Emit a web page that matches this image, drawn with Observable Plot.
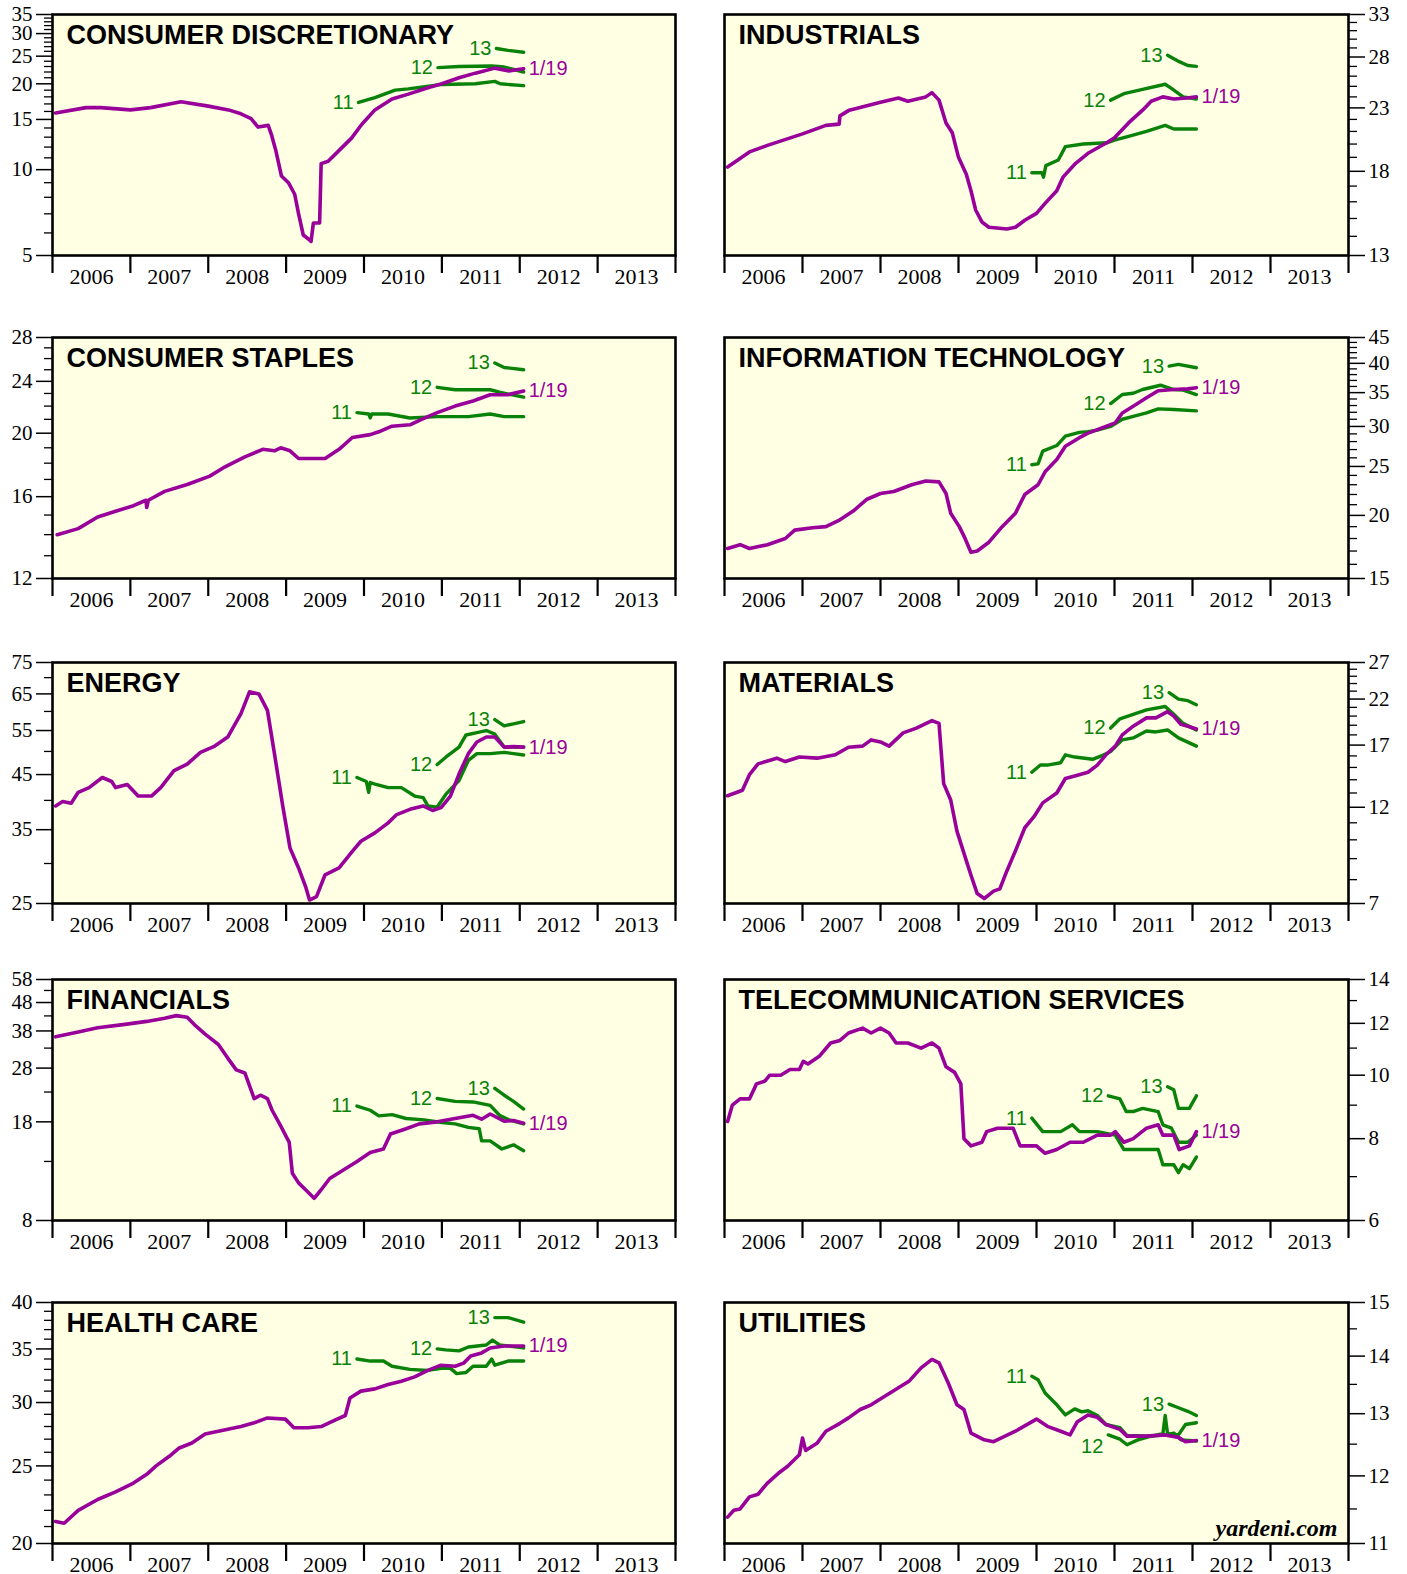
<!DOCTYPE html>
<html><head><meta charset="utf-8">
<script src="https://cdn.jsdelivr.net/npm/d3@7"></script>
<script src="https://cdn.jsdelivr.net/npm/@observablehq/plot@0.6"></script>
<style>
body{margin:0;background:#fff;}
#wrap{position:relative;width:1407px;height:1574px;overflow:hidden;background:#fff;}
#wrap svg{position:absolute;}
#wrap g[aria-label="y-axis tick label"], #wrap g[aria-label="y-axis tick label"] text{font-family:"Liberation Serif", serif !important;font-size:21px !important;}
#wrap g[aria-label="x-axis tick label"], #wrap g[aria-label="x-axis tick label"] text{font-family:"Liberation Serif", serif !important;font-size:22px !important;}
</style></head><body><div id="wrap"></div>
<script>
// ---------- DATA (decimal year, value) ----------
const cdPurple = [[2006.04,15.8],[2006.43,16.5],[2006.62,16.5],[2007.0,16.2],[2007.26,16.5],[2007.65,17.3],[2008.0,16.7],[2008.26,16.2],[2008.42,15.7],[2008.55,15.1],[2008.64,14.1],[2008.77,14.3],[2008.81,13.3],[2008.87,11.6],[2008.94,9.5],[2009.03,9.0],[2009.11,8.2],[2009.16,7.0],[2009.22,5.9],[2009.29,5.7],[2009.32,5.6],[2009.35,6.5],[2009.43,6.5],[2009.45,10.5],[2009.54,10.7],[2009.71,11.9],[2009.84,12.9],[2009.97,14.4],[2010.14,16.2],[2010.36,17.7],[2010.57,18.4],[2010.83,19.4],[2011.0,20.0],[2011.22,21.0],[2011.43,21.8],[2011.68,22.7],[2011.86,22.2],[2012.05,22.6]];
const cdG11 = [[2009.93,17.2],[2010.14,17.9],[2010.4,19.0],[2010.57,19.2],[2010.83,19.6],[2011.0,19.9],[2011.43,20.0],[2011.68,20.4],[2011.75,20.0],[2012.05,19.7]];
const cdG12 = [[2010.95,22.8],[2011.22,23.0],[2011.64,23.1],[2011.8,22.9],[2012.05,22.0]];
const cdG13 = [[2011.7,26.6],[2011.85,26.2],[2012.05,25.8]];

const indPurple = [[2006.04,18.3],[2006.32,19.4],[2006.55,19.9],[2007.0,20.8],[2007.3,21.5],[2007.47,21.6],[2007.48,22.3],[2007.6,22.8],[2008.0,23.5],[2008.23,23.9],[2008.35,23.6],[2008.58,24.0],[2008.66,24.4],[2008.75,23.7],[2008.84,21.7],[2008.92,20.9],[2009.0,19.0],[2009.1,17.8],[2009.16,16.7],[2009.22,15.5],[2009.3,14.8],[2009.39,14.5],[2009.62,14.4],[2009.73,14.5],[2009.85,14.9],[2010.0,15.3],[2010.11,15.9],[2010.26,16.7],[2010.34,17.6],[2010.49,18.5],[2010.66,19.3],[2010.9,20.1],[2011.0,20.5],[2011.18,21.7],[2011.36,22.8],[2011.47,23.6],[2011.62,24.0],[2011.76,23.8],[2011.93,23.9],[2012.05,24.0]];
const indG11 = [[2009.94,17.9],[2010.07,17.9],[2010.09,17.6],[2010.12,18.4],[2010.28,18.8],[2010.37,19.8],[2010.6,20.0],[2010.9,20.1],[2011.0,20.3],[2011.18,20.6],[2011.41,21.0],[2011.65,21.5],[2011.76,21.2],[2012.05,21.2]];
const indG12 = [[2010.95,23.7],[2011.12,24.3],[2011.36,24.7],[2011.65,25.2],[2011.73,24.8],[2011.88,24.0],[2012.05,23.8]];
const indG13 = [[2011.68,28.2],[2011.83,27.5],[2011.94,27.1],[2012.05,27.0]];

const csPurple = [[2006.06,14.0],[2006.33,14.3],[2006.58,14.9],[2006.81,15.2],[2007.04,15.5],[2007.2,15.8],[2007.21,15.4],[2007.23,15.8],[2007.44,16.3],[2007.73,16.7],[2008.02,17.2],[2008.19,17.7],[2008.47,18.4],[2008.7,18.9],[2008.85,18.8],[2008.93,19.0],[2009.05,18.8],[2009.16,18.3],[2009.33,18.3],[2009.5,18.3],[2009.68,18.9],[2009.85,19.7],[2010.08,19.9],[2010.19,20.1],[2010.36,20.5],[2010.59,20.6],[2010.74,21.0],[2010.94,21.5],[2011.17,22.0],[2011.4,22.4],[2011.62,22.9],[2011.74,22.9],[2011.85,22.9],[2012.05,23.2]];
const csG11 = [[2009.91,21.5],[2010.06,21.4],[2010.08,21.1],[2010.1,21.4],[2010.31,21.4],[2010.59,21.1],[2010.94,21.2],[2011.34,21.2],[2011.62,21.4],[2011.8,21.2],[2012.05,21.2]];
const csG12 = [[2010.94,23.5],[2011.17,23.3],[2011.62,23.3],[2011.74,23.1],[2012.05,22.7]];
const csG13 = [[2011.68,25.6],[2011.8,25.2],[2012.05,25.0]];

const itPurple = [[2006.04,17.2],[2006.2,17.5],[2006.32,17.2],[2006.55,17.5],[2006.78,18.0],[2006.9,18.7],[2007.13,18.9],[2007.3,19.0],[2007.48,19.6],[2007.65,20.4],[2007.82,21.5],[2008.0,22.1],[2008.17,22.3],[2008.4,23.0],[2008.58,23.4],[2008.75,23.3],[2008.84,22.1],[2008.9,20.2],[2009.01,19.0],[2009.07,18.2],[2009.16,16.9],[2009.24,17.0],[2009.39,17.7],[2009.56,19.0],[2009.73,20.2],[2009.85,22.0],[2010.02,23.0],[2010.11,24.4],[2010.26,25.8],[2010.37,27.4],[2010.55,28.5],[2010.66,29.1],[2010.89,30.0],[2011.01,30.5],[2011.1,31.9],[2011.24,32.9],[2011.41,34.2],[2011.56,35.3],[2011.76,35.5],[2011.94,35.6],[2012.05,35.8]];
const itG11 = [[2009.94,25.2],[2010.02,25.3],[2010.08,26.8],[2010.26,27.5],[2010.37,28.7],[2010.55,29.2],[2010.66,29.3],[2010.78,29.5],[2010.95,30.0],[2011.1,31.0],[2011.24,31.4],[2011.41,31.9],[2011.56,32.5],[2011.76,32.4],[2012.05,32.2]];
const itG12 = [[2010.95,33.3],[2011.1,34.7],[2011.24,34.9],[2011.36,35.5],[2011.59,36.2],[2011.76,35.5],[2011.88,35.4],[2012.05,34.7]];
const itG13 = [[2011.7,39.5],[2011.82,39.8],[2012.05,39.2]];

const enPurple = [[2006.04,39.0],[2006.13,39.8],[2006.24,39.5],[2006.33,41.5],[2006.47,42.4],[2006.64,44.4],[2006.76,43.6],[2006.81,42.4],[2006.96,43.0],[2007.1,40.8],[2007.27,40.8],[2007.39,42.4],[2007.56,45.8],[2007.73,47.2],[2007.9,49.8],[2008.07,51.1],[2008.25,53.4],[2008.42,59.4],[2008.53,65.6],[2008.65,65.0],[2008.76,60.3],[2008.85,49.5],[2008.96,38.7],[2009.05,32.2],[2009.16,29.4],[2009.25,27.0],[2009.3,25.4],[2009.39,25.8],[2009.5,28.5],[2009.68,29.4],[2009.85,31.7],[2009.96,33.2],[2010.14,34.5],[2010.31,36.1],[2010.42,37.5],[2010.59,38.4],[2010.76,39.0],[2010.88,38.2],[2010.99,38.7],[2011.11,40.8],[2011.22,45.1],[2011.34,49.5],[2011.45,52.2],[2011.57,53.4],[2011.68,53.4],[2011.8,51.0],[2011.92,51.1],[2012.05,51.0]];
const enG11 = [[2009.91,44.4],[2010.03,43.6],[2010.06,41.5],[2010.08,43.4],[2010.14,43.1],[2010.31,42.4],[2010.48,42.4],[2010.65,40.8],[2010.76,40.5],[2010.82,39.0],[2010.94,38.8],[2011.05,41.1],[2011.22,43.8],[2011.34,48.0],[2011.45,49.5],[2011.62,49.5],[2011.8,49.8],[2011.92,49.5],[2012.05,49.2]];
const enG12 = [[2010.94,47.1],[2011.05,48.7],[2011.22,51.0],[2011.31,53.9],[2011.45,54.5],[2011.57,55.0],[2011.68,54.1],[2011.8,51.0],[2012.05,51.0]];
const enG13 = [[2011.68,57.8],[2011.8,56.2],[2011.92,56.7],[2012.05,57.3]];

const maPurple = [[2006.04,12.8],[2006.23,13.2],[2006.32,14.4],[2006.43,15.3],[2006.67,15.8],[2006.78,15.5],[2006.96,15.9],[2007.19,15.8],[2007.42,16.1],[2007.59,16.8],[2007.77,16.9],[2007.88,17.5],[2008.0,17.3],[2008.11,16.9],[2008.29,18.2],[2008.46,18.7],[2008.66,19.5],[2008.75,19.2],[2008.81,13.7],[2008.9,12.5],[2008.98,10.5],[2009.1,8.9],[2009.16,8.2],[2009.24,7.4],[2009.33,7.2],[2009.45,7.5],[2009.53,7.6],[2009.62,8.4],[2009.73,9.4],[2009.85,10.7],[2009.97,11.4],[2010.08,12.3],[2010.26,13.0],[2010.37,14.1],[2010.49,14.3],[2010.66,14.6],[2010.78,15.2],[2010.89,16.1],[2011.01,16.9],[2011.1,18.0],[2011.24,18.9],[2011.41,19.8],[2011.53,19.8],[2011.68,20.5],[2011.76,20.0],[2011.85,19.1],[2011.94,18.9],[2012.05,18.6]];
const maG11 = [[2009.94,14.6],[2010.05,15.2],[2010.14,15.2],[2010.31,15.4],[2010.37,16.1],[2010.49,15.9],[2010.72,15.7],[2010.83,16.0],[2010.95,16.4],[2011.1,17.5],[2011.24,17.7],[2011.41,18.4],[2011.53,18.3],[2011.68,18.5],[2011.82,17.7],[2012.05,16.9]];
const maG12 = [[2010.95,18.7],[2011.07,19.7],[2011.24,20.2],[2011.41,20.7],[2011.65,21.1],[2011.76,20.2],[2011.88,19.2],[2012.05,18.5]];
const maG13 = [[2011.7,22.8],[2011.82,22.0],[2011.94,21.8],[2012.05,21.3]];

const fiPurple = [[2006.04,36.2],[2006.3,37.5],[2006.58,39.0],[2006.93,40.1],[2007.21,41.1],[2007.44,42.2],[2007.59,43.1],[2007.73,42.5],[2007.84,39.6],[2007.96,37.0],[2008.13,34.0],[2008.25,30.4],[2008.36,27.6],[2008.47,26.9],[2008.59,21.8],[2008.67,22.4],[2008.76,21.8],[2008.82,19.8],[2008.93,17.4],[2009.04,15.2],[2009.08,11.8],[2009.16,10.9],[2009.25,10.3],[2009.36,9.6],[2009.45,10.3],[2009.56,11.3],[2009.73,12.1],[2009.91,13.0],[2010.08,14.0],[2010.25,14.4],[2010.34,16.3],[2010.54,17.0],[2010.71,17.7],[2010.94,18.0],[2011.17,18.5],[2011.4,19.0],[2011.51,18.4],[2011.62,19.2],[2011.8,18.1],[2011.92,18.2],[2012.05,17.8]];
const fiG11 = [[2009.91,20.5],[2010.08,19.8],[2010.19,18.9],[2010.36,19.1],[2010.54,18.5],[2010.77,18.3],[2011.0,17.9],[2011.17,17.7],[2011.34,17.2],[2011.48,17.0],[2011.51,15.4],[2011.62,15.4],[2011.77,14.4],[2011.92,14.9],[2012.05,14.2]];
const fiG12 = [[2010.94,21.8],[2011.17,21.3],[2011.4,21.2],[2011.62,20.6],[2011.74,19.0],[2011.86,18.3],[2012.05,17.7]];
const fiG13 = [[2011.68,23.7],[2011.8,22.4],[2011.92,21.3],[2012.05,20.0]];

const tePurple = [[2006.04,8.5],[2006.1,9.0],[2006.2,9.2],[2006.32,9.2],[2006.41,9.7],[2006.52,9.8],[2006.58,10.0],[2006.72,10.0],[2006.84,10.2],[2006.96,10.2],[2007.01,10.5],[2007.07,10.4],[2007.22,10.7],[2007.36,11.2],[2007.48,11.3],[2007.59,11.6],[2007.77,11.8],[2007.88,11.6],[2008.0,11.8],[2008.11,11.6],[2008.2,11.2],[2008.35,11.2],[2008.52,11.0],[2008.66,11.2],[2008.75,11.0],[2008.84,10.3],[2008.95,10.1],[2009.03,9.7],[2009.07,8.0],[2009.16,7.8],[2009.3,7.9],[2009.36,8.2],[2009.5,8.3],[2009.7,8.3],[2009.79,7.8],[2010.0,7.8],[2010.11,7.6],[2010.26,7.7],[2010.43,7.9],[2010.6,7.9],[2010.78,8.1],[2010.95,8.1],[2011.01,8.2],[2011.12,7.9],[2011.24,8.0],[2011.41,8.3],[2011.56,8.4],[2011.62,8.1],[2011.76,8.1],[2011.83,7.7],[2011.96,7.8],[2012.05,8.2]];
const teG11 = [[2009.94,8.6],[2010.08,8.2],[2010.31,8.2],[2010.46,8.4],[2010.55,8.2],[2010.78,8.2],[2011.01,8.1],[2011.12,7.7],[2011.24,7.7],[2011.56,7.7],[2011.62,7.3],[2011.76,7.3],[2011.82,7.1],[2011.88,7.3],[2011.96,7.2],[2012.05,7.5]];
const teG12 = [[2010.92,9.3],[2011.07,9.2],[2011.15,8.8],[2011.24,8.8],[2011.36,8.9],[2011.56,8.8],[2011.62,8.4],[2011.73,8.3],[2011.82,7.9],[2011.94,7.9],[2012.05,8.1]];
const teG13 = [[2011.68,9.6],[2011.76,9.5],[2011.82,8.9],[2011.96,8.9],[2012.05,9.3]];

const hcPurple = [[2006.04,21.3],[2006.15,21.2],[2006.33,22.0],[2006.58,22.7],[2006.81,23.2],[2007.04,23.8],[2007.21,24.4],[2007.33,25.0],[2007.5,25.7],[2007.62,26.3],[2007.79,26.7],[2007.96,27.4],[2008.19,27.7],[2008.42,28.0],[2008.59,28.3],[2008.76,28.7],[2008.99,28.6],[2009.1,27.9],[2009.28,27.9],[2009.45,28.0],[2009.62,28.5],[2009.76,28.9],[2009.82,30.4],[2009.96,31.0],[2010.14,31.2],[2010.31,31.6],[2010.48,31.9],[2010.65,32.3],[2010.82,32.9],[2010.99,33.4],[2011.17,33.3],[2011.28,33.6],[2011.37,34.3],[2011.51,34.6],[2011.62,35.1],[2011.8,35.3],[2012.05,35.3]];
const hcG11 = [[2009.91,34.0],[2010.08,33.8],[2010.25,33.8],[2010.36,33.3],[2010.59,33.0],[2010.82,32.9],[2010.99,33.1],[2011.11,33.1],[2011.19,32.6],[2011.31,32.7],[2011.4,33.3],[2011.57,33.3],[2011.64,34.0],[2011.68,33.4],[2011.85,33.8],[2012.05,33.8]];
const hcG12 = [[2010.94,35.0],[2011.05,34.9],[2011.22,34.8],[2011.34,35.2],[2011.57,35.4],[2011.65,35.9],[2011.74,35.4],[2012.05,35.1]];
const hcG13 = [[2011.68,38.3],[2011.85,38.3],[2012.05,37.8]];

const utPurple = [[2006.04,11.38],[2006.12,11.48],[2006.2,11.5],[2006.32,11.68],[2006.43,11.72],[2006.55,11.89],[2006.69,12.04],[2006.81,12.15],[2006.96,12.33],[2007.0,12.6],[2007.04,12.4],[2007.19,12.52],[2007.3,12.71],[2007.48,12.84],[2007.59,12.93],[2007.74,13.07],[2007.88,13.15],[2008.06,13.3],[2008.23,13.44],[2008.37,13.56],[2008.52,13.79],[2008.66,13.94],[2008.75,13.88],[2008.87,13.52],[2008.98,13.15],[2009.07,13.07],[2009.16,12.68],[2009.33,12.57],[2009.45,12.54],[2009.73,12.71],[2010.0,12.91],[2010.14,12.79],[2010.31,12.71],[2010.43,12.65],[2010.52,12.86],[2010.66,12.98],[2010.78,12.94],[2010.89,12.82],[2011.07,12.74],[2011.16,12.63],[2011.41,12.63],[2011.65,12.65],[2011.82,12.61],[2011.91,12.54],[2012.05,12.56]];
const utG11 = [[2009.94,13.64],[2010.02,13.58],[2010.11,13.35],[2010.26,13.15],[2010.37,12.98],[2010.49,13.08],[2010.58,13.03],[2010.66,13.05],[2010.78,12.97],[2010.89,12.82],[2011.07,12.77],[2011.16,12.64],[2011.47,12.63],[2011.62,12.67],[2011.65,12.97],[2011.68,12.67],[2011.82,12.65],[2011.91,12.82],[2012.05,12.85]];
const utG12 = [[2010.92,12.65],[2011.07,12.58],[2011.16,12.49],[2011.3,12.57],[2011.47,12.63],[2011.65,12.65],[2011.76,12.68],[2011.85,12.57],[2012.05,12.55]];
const utG13 = [[2011.7,13.16],[2011.82,13.1],[2011.94,13.04],[2012.05,12.97]];

// tick labels
const yearTicks = [2006,2007,2008,2009,2010,2011,2012,2013,2014];
const yearLabels = ["2006","2007","2008","2009","2010","2011","2012","2013"];
const seriesLabels = ["11","12","13"];
const lastLabel = "1/19";

// ---------- PANELS ----------
function ints(a,b){const r=[];for(let v=a;v<=b;v++)r.push(v);return r;}
function minorOf(all, major){return all.filter(v=>!major.includes(v));}

const panels = [
 {title:"CONSUMER DISCRETIONARY", col:0,row:0, domain:[5,35], major:[5,10,15,20,25,30,35], minor:minorOf(ints(5,35),[5,10,15,20,25,30,35]), p:cdPurple, g:[cdG11,cdG12,cdG13]},
 {title:"INDUSTRIALS", col:1,row:0, domain:[13,33], major:[13,18,23,28,33], minor:minorOf(ints(13,33),[13,18,23,28,33]), p:indPurple, g:[indG11,indG12,indG13]},
 {title:"CONSUMER STAPLES", col:0,row:1, domain:[12,28], major:[12,16,20,24,28], minor:minorOf(ints(12,28),[12,16,20,24,28]), p:csPurple, g:[csG11,csG12,csG13]},
 {title:"INFORMATION TECHNOLOGY", col:1,row:1, domain:[15,45], major:[15,20,25,30,35,40,45], minor:minorOf(ints(15,45),[15,20,25,30,35,40,45]), p:itPurple, g:[itG11,itG12,itG13]},
 {title:"ENERGY", col:0,row:2, domain:[25,75], major:[25,35,45,55,65,75], minor:[30,40,50,60,70], p:enPurple, g:[enG11,enG12,enG13]},
 {title:"MATERIALS", col:1,row:2, domain:[7,27], major:[7,12,17,22,27], minor:minorOf(ints(7,27),[7,12,17,22,27]), p:maPurple, g:[maG11,maG12,maG13]},
 {title:"FINANCIALS", col:0,row:3, domain:[8,58], major:[8,18,28,38,48,58], minor:[13,23,33,43,53], p:fiPurple, g:[fiG11,fiG12,fiG13]},
 {title:"TELECOMMUNICATION SERVICES", col:1,row:3, domain:[6,14], major:[6,8,10,12,14], minor:[7,9,11,13], p:tePurple, g:[teG11,teG12,teG13]},
 {title:"HEALTH CARE", col:0,row:4, domain:[20,40], major:[20,25,30,35,40], minor:minorOf(ints(20,40),[20,25,30,35,40]), p:hcPurple, g:[hcG11,hcG12,hcG13]},
 {title:"UTILITIES", col:1,row:4, domain:[11,15], major:[11,12,13,14,15], minor:[11.5,12.5,13.5,14.5], p:utPurple, g:[utG11,utG12,utG13], labelDy:[0,12,0], credit:true}
];

const PURPLE = "#990099", GREEN = "#0a820a", BG = "#ffffe4";
const SERIF = "Liberation Serif", SANS = "Liberation Sans";
const frameTops = [14,337,662,979,1302];
const wrap = document.getElementById("wrap");
const mids = yearLabels.map(s => +s + 0.5);

for (const cfg of panels) {
  const left = cfg.col === 0;
  const anchor = left ? "left" : "right";
  const dys = cfg.labelDy || [0,0,0];
  const marks = [
    Plot.frame({fill: BG}),
    Plot.axisY({anchor, ticks: cfg.minor, tickSize: 8, tickFormat: () => "", strokeWidth: 1.3}),
    Plot.axisY({anchor, ticks: cfg.major, tickSize: 16, tickPadding: 4, tickFormat: d => String(d), strokeWidth: 1.5, fontSize: 21, fontFamily: SERIF, fill: "black"}),
    Plot.axisX({ticks: yearTicks, tickSize: 18, tickFormat: () => "", strokeWidth: 2.2}),
    Plot.axisX({ticks: mids, tickSize: 0, tickPadding: 13, tickFormat: d => String(Math.floor(d)), fontSize: 22, fontFamily: SERIF, fill: "black"}),
    ...cfg.g.map(s => Plot.line(s, {x: d => d[0], y: d => d[1], stroke: GREEN, strokeWidth: 3.4})),
    Plot.line(cfg.p, {x: d => d[0], y: d => d[1], stroke: PURPLE, strokeWidth: 3.6}),
    ...cfg.g.map((s, i) => Plot.text([s[0]], {x: d => d[0], y: d => d[1], text: () => seriesLabels[i], textAnchor: "end", dx: -5, dy: dys[i], fill: GREEN, fontFamily: SANS, fontSize: 20, lineAnchor: "middle"})),
    Plot.text([cfg.p[cfg.p.length - 1]], {x: d => d[0], y: d => d[1], text: () => lastLabel, textAnchor: "start", dx: 5, fill: PURPLE, fontFamily: SANS, fontSize: 20, lineAnchor: "middle"}),
    Plot.frame({stroke: "black", strokeWidth: 2.6}),
    Plot.text([cfg.title], {frameAnchor: "top-left", dx: 14, dy: 10, lineAnchor: "top", text: d => d, fontFamily: SANS, fontWeight: "bold", fontSize: 27, fill: "black", textAnchor: "start"})
  ];
  if (cfg.credit) marks.push(Plot.text(["yardeni.com"], {frameAnchor: "bottom-right", dx: -11, dy: -8, lineAnchor: "bottom", text: d => d, fontFamily: SERIF, fontStyle: "italic", fontWeight: "bold", fontSize: 24, fill: "black", textAnchor: "end"}));
  const chart = Plot.plot({
    width: left ? 700 : 707,
    height: 291,
    marginTop: 10, marginBottom: 40,
    marginLeft: left ? 52 : 24, marginRight: left ? 25 : 59,
    style: {fontFamily: SERIF, fontSize: "21px", background: "transparent", overflow: "visible", color: "black"},
    x: {domain: [2006, 2014]},
    y: {type: "log", domain: cfg.domain},
    marks
  });
  chart.style.left = (left ? 0 : 700) + "px";
  chart.style.top = (frameTops[cfg.row] - 10) + "px";
  wrap.appendChild(chart);
}
</script></body></html>
